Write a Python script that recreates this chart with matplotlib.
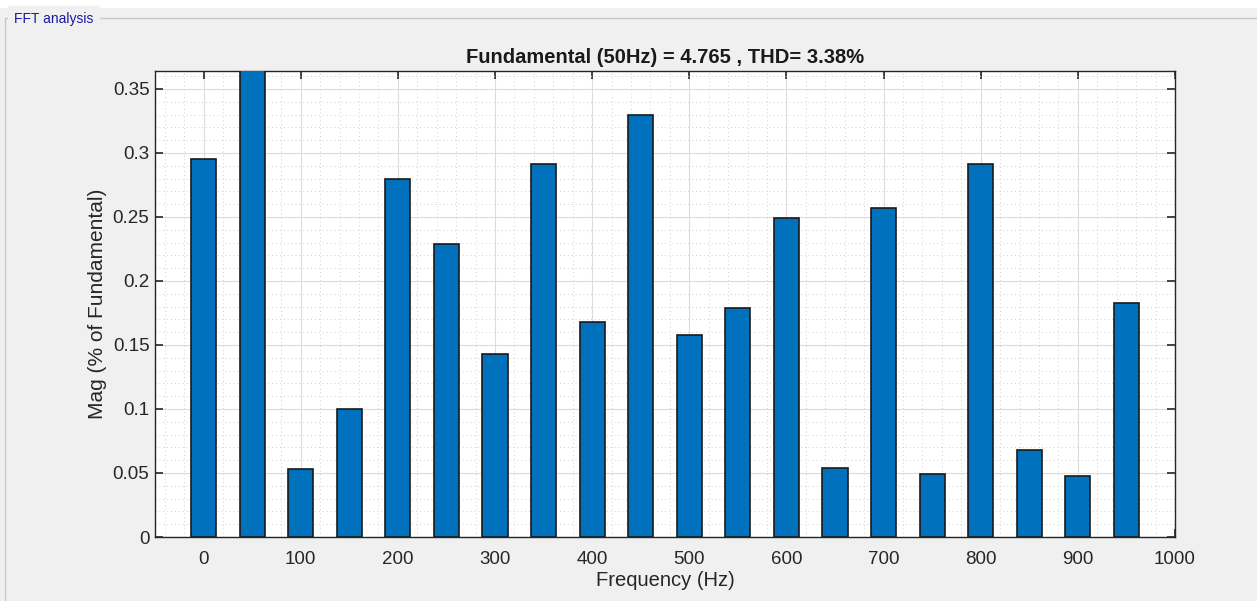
import numpy as np
import matplotlib.pyplot as plt
from matplotlib.patches import Rectangle
from matplotlib.ticker import MultipleLocator

plt.rcParams['font.family'] = ['Liberation Sans', 'DejaVu Sans']

# harmonic frequencies (Hz) and magnitudes (% of fundamental)
freq = [0, 50, 100, 150, 200, 250, 300, 350, 400, 450, 500,
        550, 600, 650, 700, 750, 800, 850, 900, 950]
mag = [0.295, 100, 0.053, 0.100, 0.280, 0.229, 0.143, 0.291, 0.168, 0.330, 0.158,
       0.179, 0.249, 0.054, 0.257, 0.049, 0.291, 0.068, 0.048, 0.183]
title_txt = 'Fundamental (50Hz) = 4.765 , THD= 3.38%'

W, H = 1257, 601
fig = plt.figure(figsize=(W / 100, H / 100), dpi=100, facecolor='#f0f0f0')

# white strip at top and the panel frame
fig.add_artist(Rectangle((0, 1 - 8 / H), 1, 8 / H, transform=fig.transFigure,
                         facecolor='white', edgecolor='none'))
fig.add_artist(Rectangle((5 / W, -0.05), 1.1, 1 - 18 / H + 0.05, transform=fig.transFigure,
                         facecolor='none', edgecolor='#c8c8c8', lw=1.0))
fig.text(14 / W, 1 - 19 / H, 'FFT analysis', color='#1a1aa0', fontsize=10,
         va='center', ha='left', backgroundcolor='#f0f0f0')

ax = fig.add_axes([155 / W, 1 - 537 / H, (1175 - 155) / W, (537 - 71) / H])
ax.set_facecolor('white')
ax.bar(freq, mag, width=26, color='#0072bd', edgecolor='#1a1a1a', linewidth=1.2, zorder=3)

ax.set_xlim(-50, 1000)
ax.set_ylim(0, 0.364)
ax.xaxis.set_major_locator(MultipleLocator(100))
ax.xaxis.set_minor_locator(MultipleLocator(20))
ax.yaxis.set_major_locator(MultipleLocator(0.05))
ax.yaxis.set_minor_locator(MultipleLocator(0.01))
ax.set_yticks([0, 0.05, 0.1, 0.15, 0.2, 0.25, 0.3, 0.35])
ax.set_yticklabels(['0', '0.05', '0.1', '0.15', '0.2', '0.25', '0.3', '0.35'])

ax.grid(True, which='major', color='#dcdcdc', lw=0.8, zorder=0)
ax.grid(True, which='minor', color='#cfcfcf', lw=0.7, ls=(0, (1, 3)), zorder=0)
ax.tick_params(which='major', direction='in', top=True, right=True, length=6,
               width=1.2, colors='#262626', labelsize=13.5)
ax.tick_params(axis='x', pad=10)
ax.tick_params(axis='y', pad=4)
ax.tick_params(which='minor', length=0)
for s in ax.spines.values():
    s.set_color('#262626')
    s.set_linewidth(1.0)

ax.set_xlabel('Frequency (Hz)', fontsize=14.5, color='#262626', labelpad=2)
ax.set_ylabel('Mag (% of Fundamental)', fontsize=15, color='#262626', labelpad=4)
ax.set_title(title_txt, fontsize=14.5, fontweight='bold', color='#1a1a1a', pad=6)

fig.savefig('out.png', dpi=100, facecolor=fig.get_facecolor())
